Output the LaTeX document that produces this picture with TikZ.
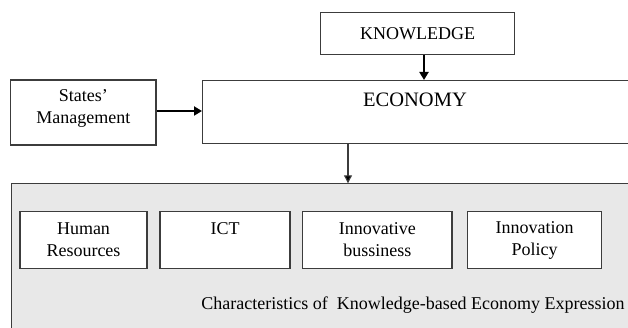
\documentclass[tikz,border=0pt]{standalone}
\usepackage{fontspec}
\setmainfont{Liberation Serif}
\usetikzlibrary{arrows.meta}
\definecolor{boxline}{HTML}{3C3C3C}
\definecolor{panel}{HTML}{E8E8E8}
\begin{document}
\begin{tikzpicture}[x=1pt,y=-1pt,
  box/.style={draw=boxline,line width=1.1pt,fill=white,inner sep=0pt,align=center,
    font=\fontsize{18}{22}\selectfont},
  txt/.style={inner sep=0pt,align=center,font=\fontsize{18}{22}\selectfont},
  bigarr/.style={draw=black,line width=2pt,-{Triangle[length=8pt,width=9pt]}},
  thinarr/.style={draw=boxline,line width=1.1pt,-{Triangle[length=8pt,width=8pt,fill=black]}}]
\useasboundingbox (0,0) rectangle (628,328);
\clip (0,0) rectangle (628,328);
% panel
\node[box,fill=panel,minimum width=629.3pt,minimum height=160pt,anchor=north west] (chars) at (10.7,183.3) {};
\node[txt,anchor=center] (cap) at (413,305) {Characteristics of\ \ Knowledge-based Economy Expression};
% inner boxes
\node[box,minimum width=127pt,minimum height=56.6pt] (hr) at (83.5,240) {Human\\Resources};
\node[box,minimum width=130pt,minimum height=56.6pt] (ict) at (225,240) {ICT\\\phantom{X}};
\node[box,minimum width=149.3pt,minimum height=56.6pt] (ib) at (377.3,240) {Innovative\\bussiness};
\node[box,minimum width=134pt,minimum height=56.6pt] (ip) at (534.7,240) {Innovation\\Policy};
% top
\node[box,minimum width=194pt,minimum height=41.6pt] (know) at (417.7,33.5) {KNOWLEDGE};
\node[box,minimum width=145.3pt,minimum height=65pt] (states) at (83.3,112.5) {};
\node[txt] (statest) at (83.3,108) {States'\\Management};
\node[box,minimum width=440pt,minimum height=63pt,anchor=north west] (eco) at (202,80) {};
\node[txt,font=\fontsize{20.5}{22}\selectfont] (ecot) at (415,100) {ECONOMY};
% connectors
\coordinate (kx) at (424,0);
\coordinate (dx) at (348,0);
\draw[bigarr] (know.south -| kx) -- (eco.north -| kx);
\draw[bigarr] (states.east |- 0,111) -- (eco.west |- 0,111);
\draw[thinarr] (eco.south -| dx) -- (chars.north -| dx);
\end{tikzpicture}
\end{document}
